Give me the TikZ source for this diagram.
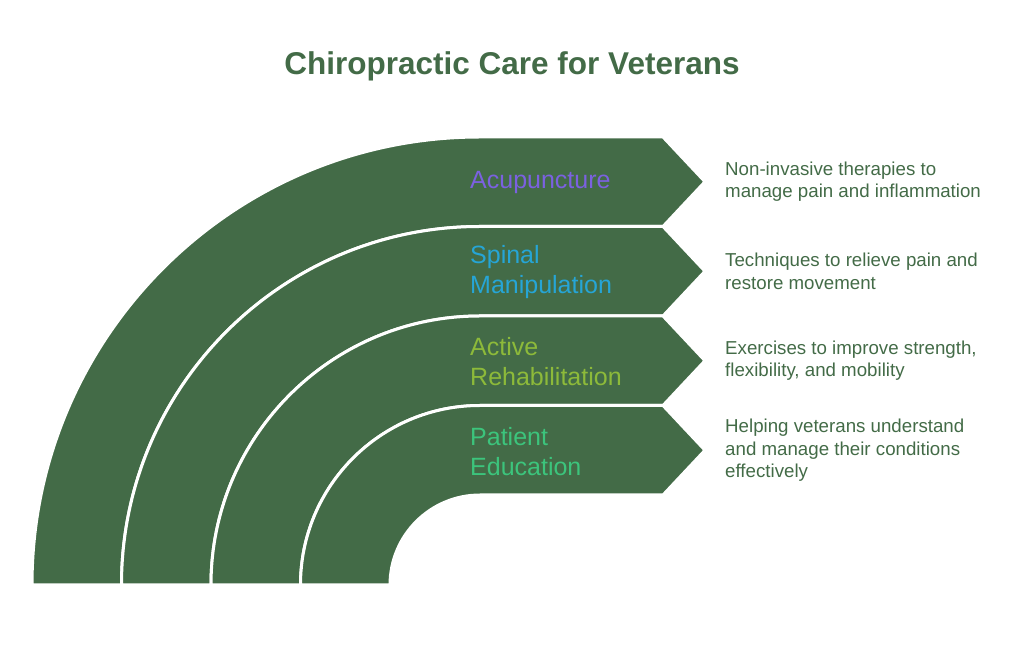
\documentclass[tikz,border=0pt]{standalone}
\usepackage{fontspec}
\setmainfont{Liberation Sans}
\usepackage{tikz}
\usetikzlibrary{positioning}

\definecolor{vertfonce}{HTML}{436B47}
\definecolor{violet}{HTML}{7B61E0}
\definecolor{bleu}{HTML}{26A5D6}
\definecolor{olive}{HTML}{8DBA3A}
\definecolor{menthe}{HTML}{3CC47C}

\begin{document}
\begin{tikzpicture}[x=1pt,y=1pt,
    bande/.style={fill=vertfonce,draw=white,line width=3pt,line join=miter},
    etiquette/.style={anchor=west,align=left,inner sep=0pt,font=\fontsize{25}{30}\selectfont},
    description/.style={align=left,inner sep=0pt,text=vertfonce,font=\fontsize{18.7}{22.5}\selectfont}]

	\useasboundingbox (0,0) rectangle (1024,647);

	%Titre
    \node[text=vertfonce,font=\fontsize{31.5}{36}\bfseries] (titre) at (512,581) {Chiropractic Care for Veterans};

	%Bandes
    \draw[bande] (32,62) arc[start angle=180,end angle=90,radius=448pt] -- (663,510) -- (705,465.25) -- (663,420.5) -- (480,420.5) arc[start angle=90,end angle=180,radius=358.5pt] -- cycle;
    \draw[bande] (121.5,62) arc[start angle=180,end angle=90,radius=358.5pt] -- (663,420.5) -- (705,375.75) -- (663,331) -- (480,331) arc[start angle=90,end angle=180,radius=269pt] -- cycle;
    \draw[bande] (211,62) arc[start angle=180,end angle=90,radius=269pt] -- (663,331) -- (705,286.25) -- (663,241.5) -- (480,241.5) arc[start angle=90,end angle=180,radius=179.5pt] -- cycle;
    \draw[bande] (300.5,62) arc[start angle=180,end angle=90,radius=179.5pt] -- (663,241.5) -- (705,196.75) -- (663,152) -- (480,152) arc[start angle=90,end angle=180,radius=90pt] -- cycle;

	%Pointes
    \coordinate (pointeA) at (705,465.25);
    \coordinate (pointeB) at (705,375.75);
    \coordinate (pointeC) at (705,286.25);
    \coordinate (pointeD) at (705,196.75);

	%Etiquettes
    \node[etiquette,text=violet] (acupuncture) at (470,464) {Acupuncture};
    \node[etiquette,text=bleu] (manipulation) at (470,374.5) {Spinal\\Manipulation};
    \node[etiquette,text=olive] (readaptation) at (470,285) {Active\\Rehabilitation};
    \node[etiquette,text=menthe] (education) at (470,195.5) {Patient\\Education};

	%Descriptions
    \node[description,right=20pt of pointeA] (descA) {Non-invasive therapies to\\manage pain and inflammation};
    \node[description,right=20pt of pointeB] (descB) {Techniques to relieve pain and\\restore movement};
    \node[description,right=20pt of pointeC] (descC) {Exercises to improve strength,\\flexibility, and mobility};
    \node[description,right=20pt of pointeD] (descD) {Helping veterans understand\\and manage their conditions\\effectively};

\end{tikzpicture}
\end{document}
